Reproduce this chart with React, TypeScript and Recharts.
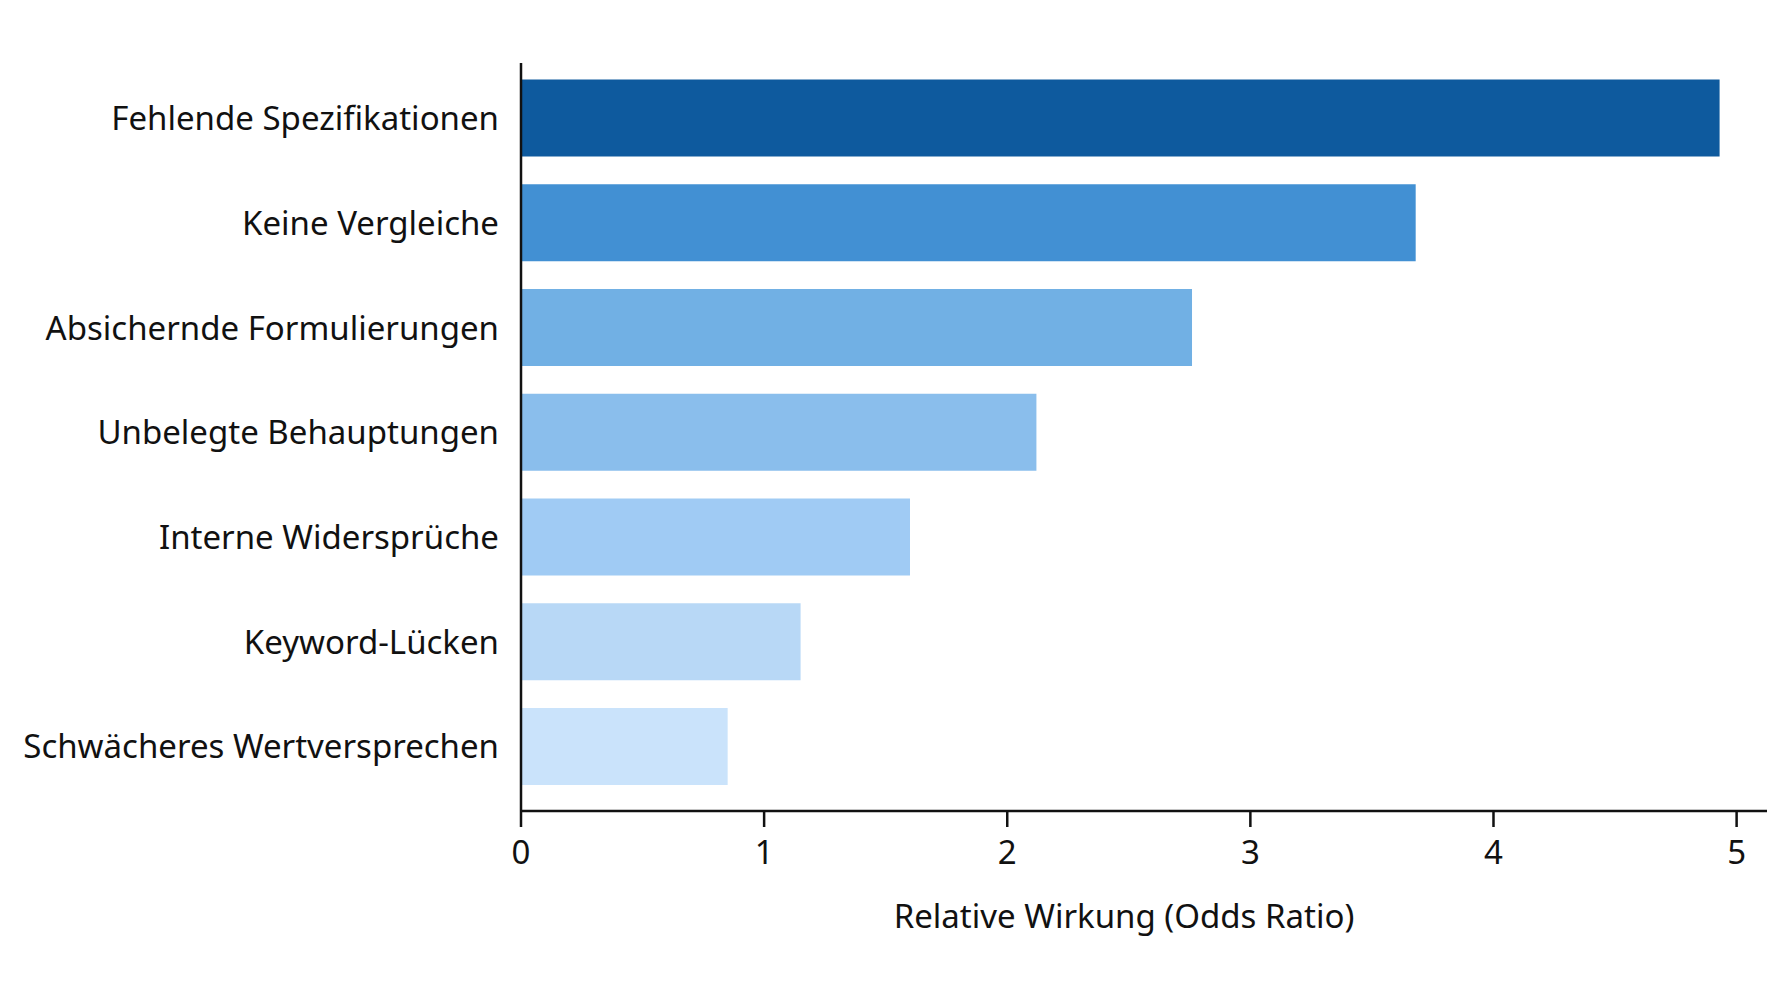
import { Bar, BarChart, Cell, Label, XAxis, YAxis } from "recharts";

const categories = [
	"Fehlende Spezifikationen",
	"Keine Vergleiche",
	"Absichernde Formulierungen",
	"Unbelegte Behauptungen",
	"Interne Widersprüche",
	"Keyword-Lücken",
	"Schwächeres Wertversprechen",
];

const oddsRatios = [4.93, 3.68, 2.76, 2.12, 1.6, 1.15, 0.85];

const xTicks = [0, 1, 2, 3, 4, 5];

const barColors = ["#0e5a9e", "#4290d3", "#71b0e4", "#8abeec", "#a0cbf4", "#b8d8f6", "#cae3fb"];

const data = categories.map((name, i) => ({ name, value: oddsRatios[i] }));

const FONT = "'Noto Sans', sans-serif";
const INK = "#111111";

export default function App() {
	return (
		<div style={{ position: "absolute", left: 0, top: 0, background: "#fff" }}>
			<BarChart
				width={1792}
				height={1008}
				layout="vertical"
				data={data}
				margin={{ top: 63, right: 25, bottom: 0, left: 0 }}
				barCategoryGap="13%"
				style={{ fontFamily: FONT }}
			>
				<XAxis
					type="number"
					domain={[0, 5.125]}
					ticks={xTicks}
					allowDataOverflow
					height={197}
					tickSize={16}
					tickMargin={14}
					stroke={INK}
					strokeWidth={2.5}
					tick={{ fill: INK, fontSize: 33, fontFamily: FONT }}
				>
					<Label
						value="Relative Wirkung (Odds Ratio)"
						position="insideBottom"
						offset={80}
						dx={-20}
						fill={INK}
						fontSize={33}
						fontFamily={FONT}
					/>
				</XAxis>
				<YAxis
					type="category"
					dataKey="name"
					width={521}
					padding={{ top: 3, bottom: 12 }}
					tickSize={0}
					tickMargin={22}
					tickLine={false}
					stroke={INK}
					strokeWidth={2.5}
					interval={0}
					tick={{ fill: INK, fontSize: 33, fontFamily: FONT }}
				/>
				<Bar dataKey="value" isAnimationActive={false}>
					{data.map((d, i) => (
						<Cell key={d.name} fill={barColors[i]} />
					))}
				</Bar>
			</BarChart>
		</div>
	);
}
